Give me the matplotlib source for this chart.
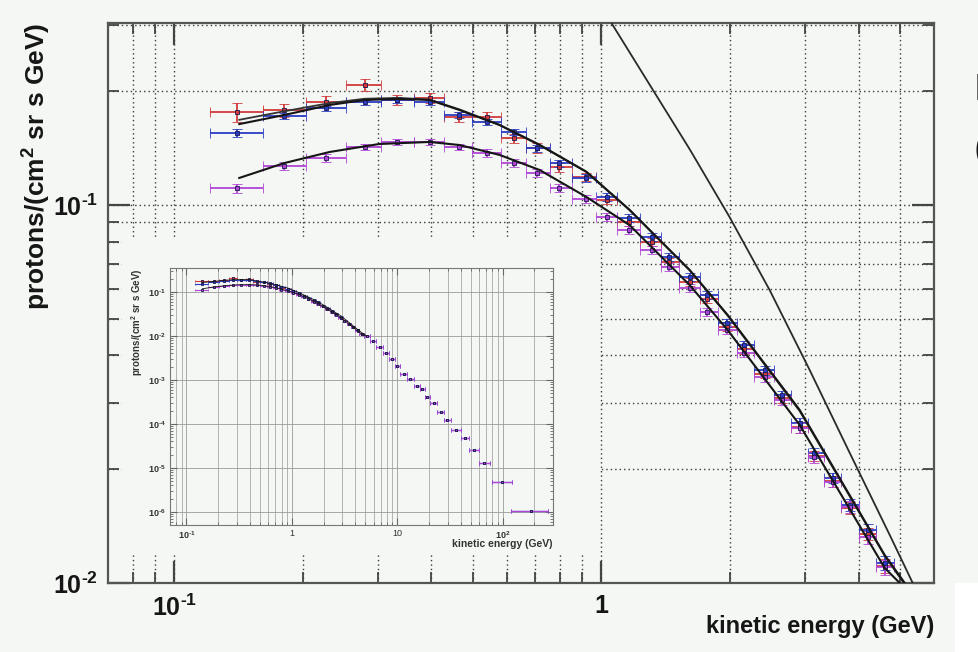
import numpy as np
import matplotlib
matplotlib.use('Agg')
import matplotlib.pyplot as plt
from matplotlib.patches import Rectangle
from matplotlib.ticker import LogLocator, NullFormatter

plt.rcParams['font.family'] = ['Liberation Sans', 'DejaVu Sans']
plt.rcParams['mathtext.fontset'] = 'custom'
plt.rcParams['mathtext.rm'] = 'Liberation Sans:bold'
plt.rcParams['mathtext.it'] = 'Liberation Sans:bold'
plt.rcParams['mathtext.bf'] = 'Liberation Sans:bold'

# ---- binned proton flux, three data sets (GeV, protons/(cm2 sr s GeV)) ----
e_mid = [0.14, 0.181, 0.227, 0.279, 0.333, 0.396, 0.465, 0.541, 0.625, 0.708,
         0.797, 0.922, 1.03, 1.16, 1.31, 1.44, 1.61, 1.77, 1.97, 2.16,
         2.41, 2.64, 2.91, 3.15, 3.48, 3.81, 4.20, 4.60]
e_edges = [0.121, 0.161, 0.204, 0.253, 0.305, 0.365, 0.429, 0.499, 0.583, 0.667,
           0.756, 0.855, 0.973, 1.09, 1.23, 1.38, 1.52, 1.70, 1.87, 2.07,
           2.28, 2.53, 2.77, 3.04, 3.31, 3.63, 4.00, 4.38, 4.83]

flux_red = [0.176, 0.178, 0.187, 0.208, 0.190, 0.192, 0.171, 0.171, 0.150, 0.1415,
            0.126, 0.1186, 0.103, 0.0902, 0.080, 0.0707, 0.0626, 0.0565, 0.0475, 0.0415,
            0.0358, 0.0308, 0.0258, 0.0217, 0.0186, 0.0158, 0.0135, 0.0111]
err_red = [0.010, 0.007, 0.007, 0.008, 0.006, 0.006, 0.005, 0.005, 0.0045, 0.004,
           0.0035, 0.003, 0.0026, 0.0023, 0.002, 0.0018, 0.0016, 0.0014, 0.0012, 0.0011,
           0.0010, 0.0009, 0.0008, 0.0007, 0.0006, 0.0006, 0.0005, 0.0005]

flux_blue = [0.155, 0.172, 0.180, 0.187, 0.1896, 0.187, 0.173, 0.1658, 0.156, 0.1415,
             0.1291, 0.1179, 0.105, 0.0924, 0.0823, 0.0729, 0.0645, 0.0578, 0.0487, 0.0426,
             0.0366, 0.0314, 0.0265, 0.0221, 0.0190, 0.0161, 0.0138, 0.0113]
err_blue = [0.004, 0.003, 0.003, 0.003, 0.003, 0.003, 0.003, 0.003, 0.003, 0.003,
            0.0028, 0.0026, 0.0024, 0.0022, 0.002, 0.0018, 0.0016, 0.0014, 0.0012, 0.0011,
            0.0010, 0.0009, 0.0008, 0.0007, 0.0006, 0.0006, 0.0005, 0.0005]

flux_mag = [0.1109, 0.1269, 0.1332, 0.1424, 0.1468, 0.1468, 0.1424, 0.1373, 0.1291, 0.1215,
            0.1109, 0.1037, 0.0929, 0.0859, 0.0760, 0.0686, 0.0603, 0.0521, 0.0467, 0.0406,
            0.0351, 0.0305, 0.0257, 0.0215, 0.0185, 0.0159, 0.0132, 0.0110]
err_mag = [0.003, 0.003, 0.003, 0.003, 0.003, 0.003, 0.003, 0.003, 0.003, 0.0028,
           0.0026, 0.0024, 0.0022, 0.002, 0.0018, 0.0016, 0.0015, 0.0013, 0.0012, 0.0011,
           0.0010, 0.0009, 0.0008, 0.0007, 0.0006, 0.0006, 0.0005, 0.0005]

# high energy points shown only in the small panel
hi_mid = [5.2, 5.9, 6.8, 7.8, 8.9, 10.0, 11.5, 13.3, 15.3, 17.2,
          19.3, 22.2, 25.9, 29.7, 36.0, 43.5, 53.0, 66.0, 98.0, 185.0]
hi_lo = [4.83, 5.55, 6.3, 7.3, 8.35, 9.45, 10.7, 12.4, 14.3, 16.3,
         18.2, 20.6, 24.0, 27.8, 32.0, 40.0, 47.5, 59.0, 79.0, 120.0]
hi_hi = [5.55, 6.3, 7.3, 8.35, 9.45, 10.7, 12.4, 14.3, 16.3, 18.2,
         20.6, 24.0, 27.8, 32.0, 40.0, 47.5, 59.0, 75.0, 122.0, 270.0]
hi_flux = [0.0102, 0.0075, 0.0057, 0.0041, 0.0030, 0.0021, 0.00138, 0.00106, 0.00074, 0.00062,
           0.00040, 0.00029, 0.000181, 0.000120, 7.2e-5, 4.7e-5, 2.5e-5, 1.3e-5, 4.8e-6, 1.05e-6]

# fitted spectra
fit_e = [0.142, 0.181, 0.231, 0.279, 0.336, 0.396, 0.465, 0.577, 0.716, 0.922,
         1.163, 1.608, 1.973, 2.909, 4.60, 5.125]
fit_blue = [0.1637, 0.173, 0.1839, 0.1896, 0.1908, 0.1896, 0.1784, 0.1628, 0.1441, 0.1223,
            0.0970, 0.0673, 0.0512, 0.0287, 0.01186, 0.0100]
fit_red = [0.168, 0.177, 0.186, 0.191, 0.192, 0.190, 0.179, 0.163, 0.1445, 0.1225,
           0.0972, 0.0672, 0.0510, 0.0285, 0.0118, 0.0099]
fit_mag_e = [0.142, 0.181, 0.231, 0.302, 0.396, 0.465, 0.577, 0.716, 0.922, 1.163,
             1.608, 1.973, 2.909, 4.60, 4.988]
fit_mag = [0.1179, 0.1291, 0.1381, 0.1450, 0.1468, 0.1441, 0.1357, 0.1238, 0.1050, 0.0885,
           0.0614, 0.0467, 0.0262, 0.01096, 0.0100]

# local interstellar spectrum
lis_e = [1.00, 1.055, 1.30, 1.608, 1.994, 2.474, 3.070, 3.809, 4.726, 5.35, 5.6]
lis_flux = [0.345, 0.303, 0.207, 0.1405, 0.0929, 0.0596, 0.0366, 0.0221, 0.0134, 0.0100, 0.0091]

BG = '#f4f7f3'
RED = '#d23a3a'
BLUE = '#2a3cc4'
MAG = '#b145d6'
INK = '#161616'

fig = plt.figure(figsize=(9.79, 6.52), dpi=100, facecolor=BG)
ax = fig.add_axes([108 / 979, 1 - 583 / 652, 826 / 979, 560 / 652], facecolor=BG)
ax.set_zorder(0)

ax.set_xscale('log')
ax.set_yscale('log')
ax.set_xlim(0.07, 6.0)
ax.set_ylim(0.01, 0.303)

mid = np.array(e_mid)
lo = mid - np.array(e_edges[:-1])
hi = np.array(e_edges[1:]) - mid


def draw_points(a, x, xl, xh, y, yerr, color, ms, cs, lw):
    a.errorbar(x, y, xerr=[xl, xh], yerr=yerr, fmt='s', color=color, ms=ms,
               mfc=color, mec='#1a1a50', mew=0.6, capsize=cs, capthick=lw,
               elinewidth=lw, zorder=3)


draw_points(ax, mid, lo, hi, flux_red, err_red, RED, 3.5, 3.5, 1.3)
draw_points(ax, mid, lo, hi, flux_blue, err_blue, BLUE, 3.5, 3.5, 1.3)
draw_points(ax, mid, lo, hi, flux_mag, err_mag, MAG, 3.5, 3.5, 1.3)

ax.plot(fit_e, fit_red, color='#333333', lw=1.3, zorder=4)
ax.plot(fit_e, fit_blue, color=INK, lw=1.5, zorder=4)
ax.plot(fit_mag_e, fit_mag, color=INK, lw=1.5, zorder=4)
ax.plot(lis_e, lis_flux, color='#2a2a2a', lw=1.3, zorder=4)


def pow10(k):
    return r'$10^{\text{%s}}$' % k


ax.set_xticks([0.1, 1], [pow10('-1'), '1'])
ax.set_xticks([0.08, 0.09, 0.2, 0.3, 0.4, 0.5, 0.6, 0.7, 0.8, 0.9, 2, 3, 4, 5], minor=True)
ax.set_yticks([0.01, 0.1], [pow10('-2'), pow10('-1')])
ax.set_yticks([0.02, 0.03, 0.04, 0.05, 0.06, 0.07, 0.08, 0.09, 0.2, 0.3], minor=True)
ax.xaxis.set_minor_formatter(NullFormatter())
ax.yaxis.set_minor_formatter(NullFormatter())
ax.tick_params(which='both', direction='in', top=True, right=True, color='#444444')
ax.tick_params(which='major', length=16, width=1.6, labelsize=18, labelcolor=INK)
ax.tick_params(which='minor', length=8, width=1.3)
ax.tick_params(axis='x', which='major', pad=8)
ax.tick_params(axis='y', which='major', pad=7)
for t in ax.get_xticklabels() + ax.get_yticklabels():
    t.set_fontweight('bold')
ax.grid(True, which='both', linestyle=(0, (1, 2.2)), color='#3a3a3a', linewidth=1.0)
for s in ax.spines.values():
    s.set_color('#555555')
    s.set_linewidth(1.6)

ax.set_ylabel('protons/(cm$^2$ sr s GeV)', fontsize=19, fontweight='bold',
              color=INK, loc='top')
ax.yaxis.set_label_coords(-0.066, 1.0)
ax.set_xlabel('kinetic energy (GeV)', fontsize=17, fontweight='bold',
              color=INK, loc='right')
ax.xaxis.set_label_coords(1.0, -0.058)

# plain pad behind the small panel
pad = fig.add_axes([122 / 979, 1 - 555 / 652, 478 / 979, 317 / 652], facecolor=BG)
pad.set_zorder(1)
pad.set_axis_off()
pad.add_patch(Rectangle((0, 0), 1, 1, transform=pad.transAxes, color=BG))

# full spectrum panel
axi = fig.add_axes([170 / 979, 1 - 525 / 652, 383 / 979, 257 / 652], facecolor=BG)
axi.set_zorder(2)
axi.set_xscale('log')
axi.set_yscale('log')
axi.set_xlim(0.07, 300)
axi.set_ylim(5e-7, 0.35)

draw_points(axi, mid, lo, hi, flux_red, err_red, RED, 1.6, 1.0, 0.8)
draw_points(axi, mid, lo, hi, flux_blue, err_blue, BLUE, 1.6, 1.0, 0.8)
draw_points(axi, mid, lo, hi, flux_mag, err_mag, MAG, 1.6, 1.0, 0.8)
hm = np.array(hi_mid)
draw_points(axi, hm, hm - np.array(hi_lo), np.array(hi_hi) - hm, hi_flux,
            None, BLUE, 2.0, 1.2, 0.9)
draw_points(axi, hm, hm - np.array(hi_lo), np.array(hi_hi) - hm, hi_flux,
            None, MAG, 2.0, 1.2, 0.9)
axi.plot(fit_e, fit_blue, color=INK, lw=0.6, zorder=4)
axi.plot(fit_mag_e, fit_mag, color=INK, lw=0.6, zorder=4)

axi.set_xticks([0.1, 1, 10, 100], [pow10('-1'), '1', '10', pow10('2')])
axi.xaxis.set_minor_locator(LogLocator(base=10, subs=np.arange(2, 10), numticks=50))
axi.set_yticks([1e-6, 1e-5, 1e-4, 1e-3, 1e-2, 1e-1],
               [pow10('-6'), pow10('-5'), pow10('-4'), pow10('-3'), pow10('-2'), pow10('-1')])
axi.yaxis.set_minor_locator(LogLocator(base=10, subs=np.arange(2, 10), numticks=50))
axi.xaxis.set_minor_formatter(NullFormatter())
axi.yaxis.set_minor_formatter(NullFormatter())
axi.tick_params(which='both', direction='in', top=True, right=True, color='#666666')
axi.tick_params(which='major', length=5, width=0.8, labelsize=6.5, labelcolor='#333333', pad=3)
axi.tick_params(which='minor', length=2.5, width=0.6)
axi.grid(True, which='major', color='#9a9a9a', linewidth=0.6)
axi.grid(True, which='minor', axis='x', color='#a8a8a8', linewidth=0.6)
for s in axi.spines.values():
    s.set_color('#777777')
    s.set_linewidth(0.8)
axi.set_ylabel('protons/(cm$^2$ sr s GeV)', fontsize=7, fontweight='bold',
               color='#333333', loc='top')
axi.yaxis.set_label_coords(-0.065, 1.0)
axi.set_xlabel('kinetic energy (GeV)', fontsize=7.5, fontweight='bold',
               color='#333333', loc='right')
axi.xaxis.set_label_coords(1.0, -0.055)

# white corner and the clipped slide text at the right edge
fig.patches.append(Rectangle((955 / 979, 0), 24 / 979, 69 / 652,
                             transform=fig.transFigure, color='white', zorder=0.5))
fig.text(975 / 979, 1 - 90 / 652, 'P', fontsize=26, fontweight='bold',
         color=INK, ha='left', va='center')
fig.text(975 / 979, 1 - 150 / 652, '(', fontsize=22, fontweight='bold',
         color=INK, ha='left', va='center')

fig.savefig('out.png', dpi=100, facecolor=BG)
